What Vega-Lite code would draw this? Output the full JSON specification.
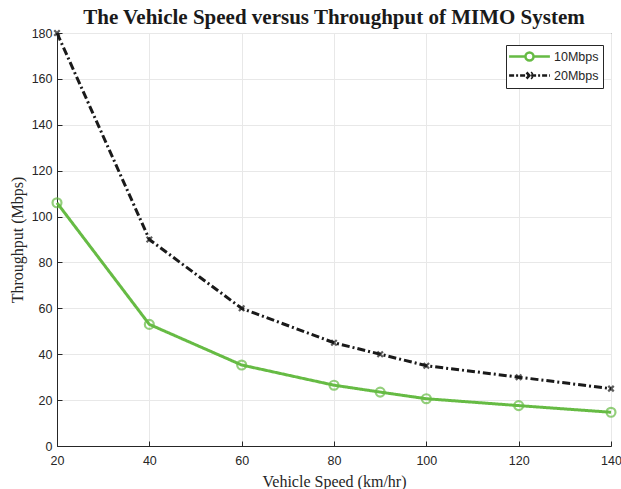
{
  "$schema": "https://vega.github.io/schema/vega-lite/v6.json",
  "width": 554,
  "height": 413,
  "autosize": "none",
  "padding": {"left": 57, "top": 33, "right": 10, "bottom": 43},
  "title": {
    "text": "The Vehicle Speed versus Throughput of MIMO System",
    "font": "Liberation Serif",
    "fontSize": 21,
    "fontWeight": "bold",
    "color": "#1a1a1a",
    "anchor": "middle",
    "offset": -2
  },
  "config": {
    "view": {"stroke": "#262626", "strokeWidth": 1},
    "axis": {
      "domainColor": "#262626",
      "tickColor": "#262626",
      "gridColor": "#e8e8e8",
      "labelFont": "Liberation Sans",
      "labelFontSize": 12.5,
      "labelColor": "#262626",
      "labelFlush": false,
      "titleFont": "Liberation Serif",
      "titleFontSize": 16,
      "titleFontWeight": "normal",
      "titleColor": "#262626"
    }
  },
  "data": {
    "values": [
      {"speed": 20, "throughput": 106, "series": "10Mbps"},
      {"speed": 40, "throughput": 53, "series": "10Mbps"},
      {"speed": 60, "throughput": 35.3, "series": "10Mbps"},
      {"speed": 80, "throughput": 26.5, "series": "10Mbps"},
      {"speed": 90, "throughput": 23.5, "series": "10Mbps"},
      {"speed": 100, "throughput": 20.6, "series": "10Mbps"},
      {"speed": 120, "throughput": 17.6, "series": "10Mbps"},
      {"speed": 140, "throughput": 14.7, "series": "10Mbps"},
      {"speed": 20, "throughput": 180, "series": "20Mbps"},
      {"speed": 40, "throughput": 90, "series": "20Mbps"},
      {"speed": 60, "throughput": 60, "series": "20Mbps"},
      {"speed": 80, "throughput": 45, "series": "20Mbps"},
      {"speed": 90, "throughput": 40, "series": "20Mbps"},
      {"speed": 100, "throughput": 35, "series": "20Mbps"},
      {"speed": 120, "throughput": 30, "series": "20Mbps"},
      {"speed": 140, "throughput": 25, "series": "20Mbps"}
    ]
  },
  "encoding": {
    "x": {
      "field": "speed",
      "type": "quantitative",
      "scale": {"domain": [20, 140], "nice": false, "zero": false},
      "axis": {"title": "Vehicle Speed (km/hr)", "values": [20, 40, 60, 80, 100, 120, 140], "tickSize": -5, "labelPadding": 13, "titlePadding": 7}
    },
    "y": {
      "field": "throughput",
      "type": "quantitative",
      "scale": {"domain": [0, 180], "nice": false},
      "axis": {"title": "Throughput (Mbps)", "values": [0, 20, 40, 60, 80, 100, 120, 140, 160, 180], "tickSize": -5, "labelPadding": 10, "titlePadding": 6}
    }
  },
  "resolve": {"scale": {"color": "independent"}, "legend": {"color": "independent"}},
  "layer": [
    {
      "mark": {"type": "line", "strokeWidth": 3},
      "encoding": {
        "color": {
          "field": "series",
          "type": "nominal",
          "scale": {"domain": ["10Mbps", "20Mbps"], "range": ["#66bb44", "#1a1a1a"]},
          "legend": {
            "title": null,
            "orient": "none",
            "legendX": 449,
            "legendY": 12,
            "strokeColor": "#262626",
            "fillColor": "white",
            "padding": 4,
            "cornerRadius": 0,
            "labelFont": "Liberation Sans",
            "labelFontSize": 12.5,
            "labelColor": "#262626",
            "labelOffset": 17,
            "symbolType": "stroke",
            "symbolSize": 144,
            "symbolOffset": 12,
            "symbolStrokeWidth": 2.5,
            "rowPadding": 1,
            "encode": {
              "symbols": {
                "update": {
                  "shape": {"signal": "datum.value === '10Mbps' ? 'M-3.4,0L-0.67,0M0.67,0L3.4,0M-0.67,0A0.67,0.67,0,1,0,0.67,0A0.67,0.67,0,1,0,-0.67,0' : 'M-3.4,0L3.4,0M-0.5,-0.5L0.5,0.5M-0.5,0.5L0.5,-0.5'"},
                  "strokeDash": {"signal": "datum.value === '10Mbps' ? [] : [5, 2, 2, 2]"},
                  "fill": {"value": "transparent"},
                  "strokeWidth": {"value": 2.5}
                }
              }
            }
          }
        },
        "strokeDash": {
          "field": "series",
          "type": "nominal",
          "scale": {"domain": ["10Mbps", "20Mbps"], "range": [[1, 0], [8, 3, 2, 3]]},
          "legend": null
        }
      }
    },
    {
      "mark": {"type": "point", "filled": false, "strokeWidth": 2.2},
      "encoding": {
        "color": {
          "field": "series",
          "type": "nominal",
          "scale": {"domain": ["10Mbps", "20Mbps"], "range": ["#66bb44", "#1a1a1a"]},
          "legend": null
        },
        "shape": {
          "field": "series",
          "type": "nominal",
          "scale": {"domain": ["10Mbps", "20Mbps"], "range": ["circle", "M-1,-1L1,1M-1,1L1,-1"]},
          "legend": null
        },
        "size": {
          "field": "series",
          "type": "nominal",
          "scale": {"domain": ["10Mbps", "20Mbps"], "range": [80, 30]},
          "legend": null
        }
      }
    }
  ]
}
